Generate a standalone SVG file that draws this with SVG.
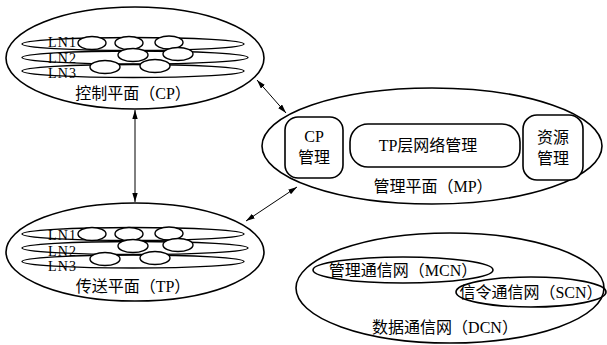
<svg xmlns="http://www.w3.org/2000/svg" width="607" height="345" viewBox="0 0 607 345">
<style>
.o{fill:none;stroke:#000;stroke-width:1.6}
.r{fill:none;stroke:#000;stroke-width:1.4}
.n{fill:#fff;stroke:#000;stroke-width:1.4}
.b{fill:#fff;stroke:#000;stroke-width:1.6}
text{font-family:"Liberation Serif","Noto Sans CJK SC",serif;font-size:16px;fill:#000}
.c{text-anchor:middle}
.l{font-size:14px}
.a{stroke:#000;stroke-width:1;fill:none;marker-start:url(#ah);marker-end:url(#ah)}
</style>
<defs>
<marker id="ah" viewBox="0 0 10 6" refX="10" refY="3" markerWidth="9" markerHeight="5.4" markerUnits="userSpaceOnUse" orient="auto-start-reverse">
<path d="M0,0L10,3L0,6z" fill="#000"/>
</marker>
</defs>
<g id="cp">
<ellipse class="o" cx="135" cy="58" rx="129" ry="51"/>
<ellipse class="r" cx="133" cy="44" rx="111" ry="6.5"/>
<ellipse class="r" cx="135" cy="57.5" rx="113" ry="6.5"/>
<ellipse class="r" cx="133" cy="71" rx="111" ry="6.5"/>
<ellipse class="n" cx="92" cy="43" rx="14" ry="6.5"/>
<ellipse class="n" cx="129" cy="43" rx="14" ry="6.5"/>
<ellipse class="n" cx="169" cy="42.5" rx="14" ry="6.5"/>
<ellipse class="n" cx="133" cy="55" rx="15" ry="6.5"/>
<ellipse class="n" cx="178" cy="54" rx="15" ry="6.5"/>
<ellipse class="n" cx="105" cy="67" rx="15" ry="6.5"/>
<ellipse class="n" cx="155" cy="66" rx="15" ry="6.5"/>
<text class="l" x="48" y="47" textLength="28">LN1</text>
<text class="l" x="48" y="62.5" textLength="28">LN2</text>
<text class="l" x="48" y="78" textLength="28">LN3</text>
<text class="c" x="133" y="99">控制平面（CP）</text>
</g>
<g id="tp">
<ellipse class="o" cx="135" cy="252" rx="129" ry="49"/>
<ellipse class="r" cx="133" cy="234" rx="111" ry="6.5"/>
<ellipse class="r" cx="135" cy="248" rx="113" ry="6.5"/>
<ellipse class="r" cx="133" cy="261.5" rx="111" ry="6.5"/>
<ellipse class="n" cx="92" cy="234" rx="14" ry="6.5"/>
<ellipse class="n" cx="129" cy="234" rx="14" ry="6.5"/>
<ellipse class="n" cx="169" cy="233.5" rx="14" ry="6.5"/>
<ellipse class="n" cx="133" cy="246" rx="15" ry="6.5"/>
<ellipse class="n" cx="178" cy="245" rx="15" ry="6.5"/>
<ellipse class="n" cx="105" cy="259" rx="15" ry="6.5"/>
<ellipse class="n" cx="155" cy="258" rx="15" ry="6.5"/>
<text class="l" x="48" y="240" textLength="28">LN1</text>
<text class="l" x="48" y="255.5" textLength="28">LN2</text>
<text class="l" x="48" y="271" textLength="28">LN3</text>
<text class="c" x="133" y="292">传送平面（TP）</text>
</g>
<g id="mp">
<ellipse class="o" cx="432" cy="146" rx="170" ry="58"/>
<g id="cpm">
<rect class="b" x="285" y="117" width="58" height="61" rx="13"/>
<text class="c" x="314" y="142">CP</text>
<text class="c" x="314" y="163">管理</text>
</g>
<g id="tpm">
<rect class="b" x="350" y="124" width="170" height="43" rx="18"/>
<text class="c" x="428" y="151">TP层网络管理</text>
</g>
<g id="res">
<rect class="b" x="523" y="115" width="60" height="65" rx="14"/>
<text class="c" x="553" y="143">资源</text>
<text class="c" x="553" y="164">管理</text>
</g>
<text class="c" x="433" y="192">管理平面（MP）</text>
</g>
<g id="dcn">
<ellipse class="o" cx="450" cy="288" rx="154" ry="55"/>
<g id="mcn">
<ellipse class="o" cx="403" cy="270" rx="90" ry="13"/>
<text class="c" x="403" y="276">管理通信网（MCN）</text>
</g>
<g id="scn">
<ellipse class="o" cx="531" cy="292" rx="75" ry="15"/>
<text class="c" x="531" y="298">信令通信网（SCN）</text>
</g>
<text class="c" x="445" y="333">数据通信网（DCN）</text>
</g>
<g id="connectors">
<line class="a" x1="135" y1="110" x2="135" y2="202"/>
<line class="a" x1="257" y1="80" x2="286" y2="113"/>
<line class="a" x1="246" y1="221" x2="297" y2="187"/>
</g>
</svg>
